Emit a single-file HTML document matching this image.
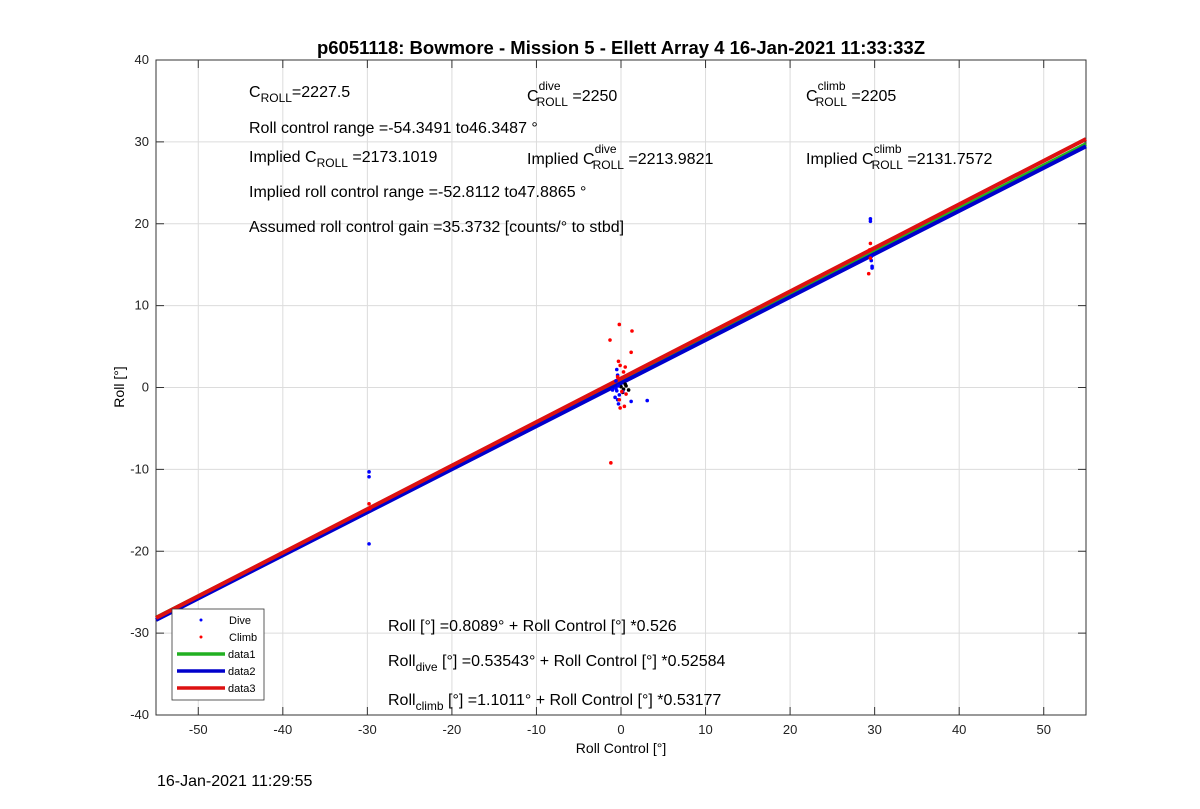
<!DOCTYPE html>
<html><head><meta charset="utf-8"><style>
body{margin:0;background:#fff;}
svg{font-family:"Liberation Sans",Arial,sans-serif;}
</style></head><body>
<svg id="chart" width="1200" height="804" xmlns="http://www.w3.org/2000/svg">
<rect x="0" y="0" width="1200" height="804" fill="#fff"/>
<g id="grid"></g>
<g id="axes"></g>
<g id="marks"></g>
<text x="621" y="54" font-size="18.5" font-weight="bold" text-anchor="middle">p6051118: Bowmore - Mission 5 - Ellett Array 4 16-Jan-2021 11:33:33Z</text>
<text x="621" y="753" font-size="14" text-anchor="middle">Roll Control [°]</text>
<text transform="translate(124,387) rotate(-90)" font-size="14" text-anchor="middle">Roll [°]</text>
<g font-size="16">
<text x="249" y="97">C<tspan font-size="12" dy="5">ROLL</tspan><tspan dy="-5">=2227.5</tspan></text>
<text x="527" y="101">C<tspan font-size="12" dy="-11">dive</tspan><tspan font-size="12" dx="-24" dy="16">ROLL</tspan><tspan dy="-5"> =2250</tspan></text>
<text x="806" y="101">C<tspan font-size="12" dy="-11">climb</tspan><tspan font-size="12" dx="-30" dy="16">ROLL</tspan><tspan dy="-5"> =2205</tspan></text>
<text x="249" y="133">Roll control range =-54.3491 to46.3487 °</text>
<text x="249" y="162">Implied C<tspan font-size="12" dy="5">ROLL</tspan><tspan dy="-5"> =2173.1019</tspan></text>
<text x="527" y="164">Implied C<tspan font-size="12" dy="-11">dive</tspan><tspan font-size="12" dx="-24" dy="16">ROLL</tspan><tspan dy="-5"> =2213.9821</tspan></text>
<text x="806" y="164">Implied C<tspan font-size="12" dy="-11">climb</tspan><tspan font-size="12" dx="-30" dy="16">ROLL</tspan><tspan dy="-5"> =2131.7572</tspan></text>
<text x="249" y="197">Implied roll control range =-52.8112 to47.8865 °</text>
<text x="249" y="232">Assumed roll control gain =35.3732 [counts/° to stbd]</text>
<text x="388" y="631">Roll [°] =0.8089° + Roll Control [°] *0.526</text>
<text x="388" y="666">Roll<tspan font-size="12" dy="5">dive</tspan><tspan dy="-5"> [°] =0.53543° + Roll Control [°] *0.52584</tspan></text>
<text x="388" y="705">Roll<tspan font-size="12" dy="5">climb</tspan><tspan dy="-5"> [°] =1.1011° + Roll Control [°] *0.53177</tspan></text>
</g>
<g font-size="11">
<rect x="172" y="609" width="92" height="91" fill="#fff" stroke="#333" stroke-width="0.8"/>
<circle cx="201" cy="620" r="1.5" fill="#0000ff"/><text x="229" y="624">Dive</text>
<circle cx="201" cy="637" r="1.5" fill="#ff0000"/><text x="229" y="641">Climb</text>
<line x1="177" y1="654" x2="225" y2="654" stroke="#22b022" stroke-width="3.5"/><text x="228" y="658">data1</text>
<line x1="177" y1="671" x2="225" y2="671" stroke="#0000cc" stroke-width="3.5"/><text x="228" y="675">data2</text>
<line x1="177" y1="688" x2="225" y2="688" stroke="#dd1111" stroke-width="3.5"/><text x="228" y="692">data3</text>
</g>
<text x="157" y="786" font-size="16">16-Jan-2021 11:29:55</text>
</svg>
<script>
const xTicks=[-50,-40,-30,-20,-10,0,10,20,30,40,50];
const yTicks=[-40,-30,-20,-10,0,10,20,30,40];
const diveX=[-29.8,-29.8,-29.8,29.5,29.5,29.6,29.6,29.7,29.7,-0.5,-0.4,-0.6,-0.3,-0.5,-0.2,-0.4,-0.3,1.2,3.1,-1,0.2,-0.7,-0.6];
const diveY=[-10.3,-10.9,-19.1,20.6,20.3,16,15.5,14.6,14.8,2.2,1.5,0.8,0.2,-0.4,-0.9,-1.5,-2,-1.7,-1.6,-0.3,-0.5,-1.2,-0.1];
const climbX=[-29.8,-29.7,29.5,29.4,29.3,29.5,-0.2,1.3,-1.3,1.2,-0.3,-0.1,0.5,0.3,-0.4,0.1,-0.2,0.4,-0.1,-1.2,0.6];
const climbY=[-14.2,-14.8,17.6,16.8,13.9,15.8,7.7,6.9,5.8,4.3,3.2,2.7,2.5,1.9,1.3,-0.5,-1.5,-2.3,-2.5,-9.2,-0.8];
const otherX=[0,0.3,0.6,0.9,0.2,0.5];
const otherY=[0.1,-0.2,0.2,-0.3,-0.6,0.4];
const fitNames=['data1','data2','data3'];
const fitIntercepts=[0.8089,0.53543,1.1011];
const fitSlopes=[0.526,0.52584,0.53177];
const fitColors=['#22b022','#0000cc','#dd1111'];
const L=156,R=1086,T=60,B=715,xMin=-55,xMax=55,yMin=-40,yMax=40;
const sx=v=>L+(v-xMin)/(xMax-xMin)*(R-L);
const sy=v=>B-(v-yMin)/(yMax-yMin)*(B-T);
const NS='http://www.w3.org/2000/svg';
function mk(tag,attrs,parent){const e=document.createElementNS(NS,tag);for(const k in attrs)e.setAttribute(k,attrs[k]);parent.appendChild(e);return e;}
const grid=document.getElementById('grid'),axes=document.getElementById('axes'),marks=document.getElementById('marks');
xTicks.forEach(t=>{
 const g=mk('line',{x1:sx(t),x2:sx(t),y1:T,y2:B,stroke:'#dcdcdc','stroke-width':1},grid);
 
 
 const lb=mk('text',{x:sx(t),y:B+19,'font-size':13,'text-anchor':'middle',fill:'#222'},axes);
 lb.textContent=t;
 
 
 mk('line',{x1:sx(t),x2:sx(t),y1:B,y2:B-8,stroke:'#333'},axes);
 mk('line',{x1:sx(t),x2:sx(t),y1:T,y2:T+8,stroke:'#333'},axes);
});
yTicks.forEach(t=>{
 const g=mk('line',{x1:L,x2:R,y1:sy(t),y2:sy(t),stroke:'#dcdcdc','stroke-width':1},grid);
 
 
 const lb=mk('text',{x:L-7,y:sy(t)+4,'font-size':13,'text-anchor':'end',fill:'#222'},axes);
 lb.textContent=t;
 
 
 mk('line',{x1:L,x2:L+8,y1:sy(t),y2:sy(t),stroke:'#333'},axes);
 mk('line',{x1:R,x2:R-8,y1:sy(t),y2:sy(t),stroke:'#333'},axes);
});
const frame=mk('rect',{x:L,y:T,width:R-L,height:B-T,fill:'none',stroke:'#333','stroke-width':1},axes);


function pts(xs,ys,col,name){xs.forEach((x,i)=>{const c=mk('circle',{cx:sx(x),cy:sy(ys[i]),r:1.8,fill:col},marks);
 
 });}
fitNames.forEach((n,i)=>{
 const ln=mk('line',{x1:sx(xMin),y1:sy(fitIntercepts[i]+fitSlopes[i]*xMin),x2:sx(xMax),y2:sy(fitIntercepts[i]+fitSlopes[i]*xMax),stroke:fitColors[i],'stroke-width':4},marks);
 
 
});
pts(otherX,otherY,'#000','other-point');
pts(diveX,diveY,'#0000ff','dive-point');
pts(climbX,climbY,'#ff0000','climb-point');
</script>
</body></html>
